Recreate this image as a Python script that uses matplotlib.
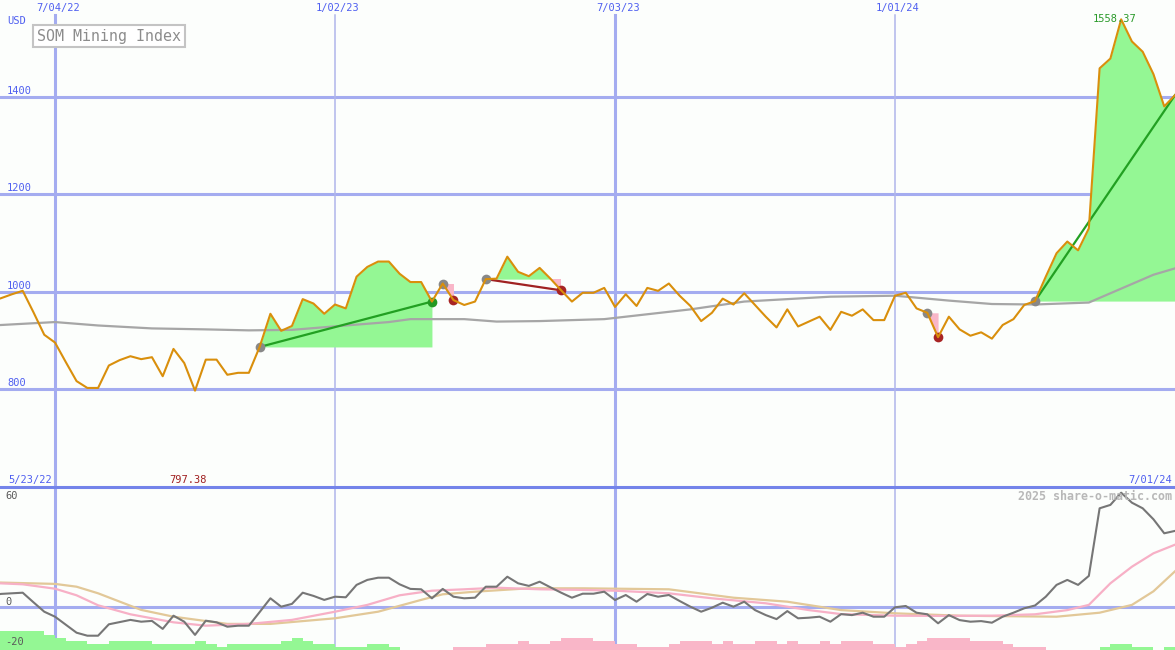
import numpy as np
import matplotlib
matplotlib.use("Agg")
import matplotlib.pyplot as plt
from matplotlib import transforms

# weekly closes of the index, week 0 = 5/23/22 ... week 110 = 7/01/24
price = [980, 987, 995, 1002, 958, 912, 896, 856, 817, 803,
         803, 849, 860, 868, 862, 866, 827, 883, 854, 797.38,
         861, 861, 830, 834, 834, 887, 955, 920, 930, 985,
         976, 955, 974, 966, 1031, 1051, 1062, 1062, 1037, 1020,
         1020, 980, 1017, 983, 973, 980, 1026, 1027, 1072, 1041,
         1032, 1049, 1027, 1003, 980, 998, 998, 1008, 969, 995,
         971, 1008, 1002, 1017, 992, 971, 940, 957, 986, 974,
         997, 973, 949, 927, 964, 929, 939, 949, 922, 959,
         951, 964, 942, 942, 992, 998, 966, 957, 907, 949,
         923, 910, 917, 904, 932, 944, 973, 981, 1031, 1079,
         1103, 1085, 1130, 1458, 1478, 1558.37, 1513, 1492, 1446, 1380,
         1403]

# slow moving average (grey line)
ma_weeks = [0, 1, 6, 10, 15, 20, 24, 28, 33, 37, 39, 44, 47, 51, 57,
            65, 70, 78, 84, 89, 93, 97, 102, 108, 110]
ma_values = [931, 932, 938, 931, 925, 923, 921, 922, 931, 938, 944, 944, 939, 940, 944,
             964, 980, 990, 992, 982, 975, 974, 978, 1035, 1048]

# lower panel: oscillator (dark line)
osc = [6.0, 6.7, 7.0, 7.3, 2.5, -2.2, -4.7, -8.7, -12.7, -14.2,
       -14.2, -8.5, -7.4, -6.3, -7.2, -6.8, -10.8, -4.2, -7.2, -13.8,
       -6.7, -7.5, -9.7, -9.2, -9.2, -2.4, 4.5, 0.3, 1.7, 7.3,
       5.7, 3.7, 5.3, 5.0, 11.2, 13.7, 14.8, 14.8, 11.5, 9.2,
       9.0, 4.5, 9.2, 5.3, 4.5, 4.8, 10.3, 10.3, 15.3, 12.0,
       10.7, 12.8, 10.0, 7.3, 4.8, 6.8, 6.8, 7.8, 3.65, 6.15,
       2.8, 6.65, 5.3, 6.15, 3.15, 0.3, -2.2, -0.2, 2.3, 0.3,
       2.8, -1.4, -3.9, -5.9, -1.9, -5.5, -5.2, -4.7, -7.2, -3.4,
       -3.9, -2.7, -4.7, -4.7, 0.0, 0.65, -2.7, -3.5, -8.0, -3.9,
       -6.4, -7.2, -6.9, -7.7, -4.7, -2.7, -0.5, 0.9, 5.3, 11.2,
       13.7, 11.2, 15.7, 49.5, 51.2, 57.3, 52.3, 49.5, 44.0, 37.0,
       38.2]

pink_weeks = [0, 3, 6, 8, 10, 13, 17, 20, 24, 28, 32, 35, 38, 41, 44, 47, 51,
              55, 58, 63, 67, 72, 76, 79, 84, 88, 93, 97, 100, 102, 104, 106, 108, 110]
pink_values = [12.2, 11.5, 9.3, 6.0, 1.0, -3.5, -7.5, -9.2, -8.3, -6.3, -2.2, 1.2, 6.0, 8.3, 9.0, 9.8, 9.0,
               8.7, 8.3, 7.0, 4.5, 2.0, -1.4, -3.4, -4.2, -4.3, -4.2, -3.5, -1.4, 1.2, 12.0, 20.3, 27.0, 31.3]

tan_weeks = [0, 6, 8, 10, 14, 17, 22, 26, 32, 36, 40, 42, 45, 50, 55,
             63, 69, 74, 79, 84, 90, 99, 103, 106, 108, 110]
tan_values = [12.5, 11.7, 10.3, 7.0, -1.3, -4.7, -8.3, -8.3, -5.5, -2.2, 3.7, 6.5, 7.8, 9.5, 9.5,
              9.0, 4.8, 2.8, -1.4, -3.0, -4.2, -4.7, -2.7, 1.2, 8.0, 18.0]

# weekly signal strength bars (+ green, - pink), week 0..109
signal = [6, 6, 6, 6, 6, 5, 4, 3, 3, 2,
          2, 3, 3, 3, 3, 2, 2, 2, 2, 3,
          2, 1, 2, 2, 2, 2, 2, 3, 4, 3,
          2, 2, 1, 1, 1, 2, 2, 1, 0, 0,
          0, 0, 0, -1, -1, -1, -2, -2, -2, -3,
          -2, -2, -3, -4, -4, -4, -3, -3, -2, -2,
          -1, -1, -1, -2, -3, -3, -3, -2, -3, -2,
          -2, -3, -3, -2, -3, -2, -2, -3, -2, -3,
          -3, -3, -2, -2, -1, -2, -3, -4, -4, -4,
          -4, -3, -3, -3, -2, -1, -1, -1, 0, 0,
          0, 0, 0, 1, 2, 2, 1, 1, 0, 1]

date_weeks = [6, 32, 58, 84]
date_labels = ["7/04/22", "1/02/23", "7/03/23", "1/01/24"]
date_major = [True, False, True, False]
price_ticks = [800, 1000, 1200, 1400]
first_date, last_date = "5/23/22", "7/01/24"

# trades: entry week, exit week, still open?
trade_start = [25, 42, 46, 87, 97]
trade_end = [41, 43, 53, 88, 110]
trade_open = [False, False, False, False, True]

BG = "#fcfefc"
GRID = "#a4acf0"
GRID_THIN = "#b0b6ea"
SEP = "#7484ea"
BLUE_TXT = "#4f5ff0"
GREEN_FILL = "#94f794"
PINK = "#f9b6c8"
ORANGE = "#d98f0c"

plt.rcParams["font.family"] = "DejaVu Sans Mono"

W, H = 1175, 650
fig = plt.figure(figsize=(W / 100, H / 100), dpi=100, facecolor=BG)
top = fig.add_axes([0, 163 / H, 1, 487 / H])
bot = fig.add_axes([0, 0, 1, 163 / H])

for ax in (top, bot):
    ax.set_facecolor(BG)
    ax.set_xlim(0.891, 110.0)
    ax.set_xticks([])
    ax.set_yticks([])
    for s in ax.spines.values():
        s.set_visible(False)
top.set_ylim(600, 1598)
bot.set_ylim(-21.35, 60.15)


def shift(trans, dx, dy):
    return transforms.offset_copy(trans, fig=fig, x=dx, y=-dy, units="dots")


weeks = np.arange(len(price))
price = np.array(price)

# grid
for v in price_ticks:
    top.axhline(v, color=GRID, lw=2.2, zorder=1)
for w, major in zip(date_weeks, date_major):
    lw, c = (2.2, GRID) if major else (1.1, GRID_THIN)
    top.axvline(w, ymax=(487 - 15) / 487, color=c, lw=lw, zorder=1)
    bot.axvline(w, color=c, lw=lw, zorder=1)
bot.axhline(0, color=GRID, lw=2.2, zorder=1)
bot.axhline(60.15, color=SEP, lw=2.2, zorder=10, clip_on=False)

# trades
for s, e, is_open in zip(trade_start, trade_end, trade_open):
    xs = weeks[s:e + 1]
    ys = price[s:e + 1]
    base = price[s]
    top.fill_between(xs, base, ys, where=ys >= base, interpolate=True,
                     color=GREEN_FILL, lw=0, zorder=2)
    top.fill_between(xs, base, ys, where=ys <= base, interpolate=True,
                     color=PINK, lw=0, zorder=2)
    gain = price[e] > base
    if e - s > 1:
        top.plot([s, e], [base, price[e]], color="#22a022" if gain else "#a02222",
                 lw=1.6, zorder=4)
    top.plot(s, base, "o", ms=7, color="#888888", mec="none", zorder=5)
    if not is_open:
        top.plot(e, price[e], "o", ms=7, color="#229922" if gain else "#a82424",
                 mec="none", zorder=5)

top.plot(ma_weeks, ma_values, color="#a6a6a6", lw=1.6, zorder=3)
top.plot(weeks, price, color=ORANGE, lw=1.5, zorder=6)

# lower panel
sig = np.array(signal)
step = 1.55
bot.bar(np.arange(len(sig)), np.abs(sig) * step, width=1, align="edge", bottom=-21.35,
        color=np.where(sig > 0, GREEN_FILL, PINK), lw=0, zorder=2)
bot.plot(tan_weeks, tan_values, color="#e2c898", lw=1.6, zorder=3)
bot.plot(pink_weeks, pink_values, color="#f7b0c6", lw=1.6, zorder=3)
bot.plot(np.arange(len(osc)), osc, color="#767676", lw=1.5, zorder=4)

# texts
xdate = transforms.blended_transform_factory(top.transData, top.transAxes)
for w, lab in zip(date_weeks, date_labels):
    top.text(w, 1, lab, transform=shift(xdate, 3, 8.5), ha="center", va="center",
             color=BLUE_TXT, fontsize=7.5)
ylab = transforms.blended_transform_factory(top.transAxes, top.transData)
for v in price_ticks:
    top.text(0, v, str(v), transform=shift(ylab, 7, -6), ha="left", va="center",
             color=BLUE_TXT, fontsize=7.5)
fig.text(7 / W, 1 - 21 / H, "USD", ha="left", va="center", color=BLUE_TXT, fontsize=7.5)

fig.text(37 / W, 1 - 36 / H, "SOM Mining Index", ha="left", va="center",
         color="#8c8c8c", fontsize=10.8,
         bbox=dict(boxstyle="square,pad=0.25", fc="white", ec="#c4c4c4", lw=1.5))

imax = int(np.argmax(price))
imin = int(np.argmin(price))
top.text(imax, price[imax], f"{price[imax]:.2f}", transform=shift(top.transData, -7, 0),
         ha="center", va="center", color="#2a9a2a", fontsize=7.5, zorder=7)
top.text(imin, 0, f"{price[imin]:.2f}", transform=shift(xdate, -7, -7),
         ha="center", va="center", color="#a02020", fontsize=7.5)

fig.text(8 / W, 1 - 480 / H, first_date, ha="left", va="center", color=BLUE_TXT, fontsize=7.5)
fig.text(1172 / W, 1 - 480 / H, last_date, ha="right", va="center", color=BLUE_TXT, fontsize=7.5)

oscl = transforms.blended_transform_factory(bot.transAxes, bot.transData)
bot.text(0, 60, "60", transform=shift(oscl, 5, 9), ha="left", va="center",
         color="#5a5a5a", fontsize=7.5)
for v in [0, -20]:
    bot.text(0, v, str(v), transform=shift(oscl, 5, -5), ha="left", va="center",
             color="#5a5a5a", fontsize=7.5)
fig.text(1172 / W, 1 - 496 / H, "2025 share-o-matic.com", ha="right", va="center",
         color="#b8b8b8", fontsize=8.4, weight="bold", zorder=1)

fig.savefig("out.png", dpi=100, facecolor=BG)
